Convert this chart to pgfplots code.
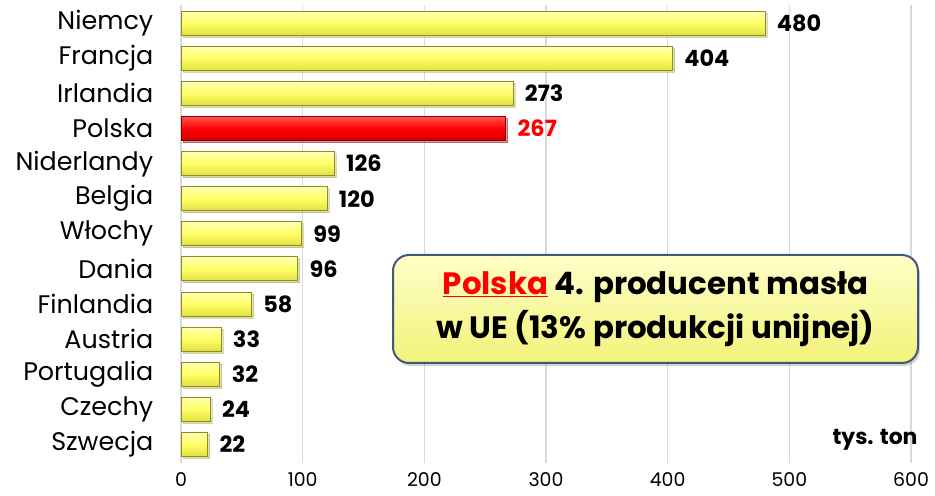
\documentclass[border=0pt]{standalone}
\usepackage{pgfplots}
\pgfplotsset{compat=1.18}
\usepackage{pgfplotstable}
\usepackage{fontspec}
\setmainfont{Poppins}
\usetikzlibrary{shadows}
\definecolor{baryel}{HTML}{FFFF66}
\definecolor{baryellight}{HTML}{FFFFB0}
\definecolor{baryeldark}{HTML}{E0E040}
\definecolor{barborder}{HTML}{8C8C2E}
\definecolor{redlight}{HTML}{FF5050}
\definecolor{reddark}{HTML}{D00000}
\definecolor{redborder}{HTML}{800000}
\definecolor{gridgray}{HTML}{D9D9D9}
\definecolor{boxborder}{HTML}{3E5A78}
\definecolor{boxtop}{HTML}{FFFFC8}
\definecolor{boxbottom}{HTML}{F2F27A}
\pgfplotstableread{
y val
0 480
1 404
2 273
3 267
4 126
5 120
6 99
7 96
8 58
9 33
10 32
11 24
12 22
}\data
\begin{document}
\begin{tikzpicture}
\useasboundingbox (0,0) rectangle (935bp,496bp);
\begin{axis}[
  at={(181bp,33bp)}, anchor=south west,
  scale only axis, width=730bp, height=458bp,
  xbar, bar width=24bp, bar shift=0pt,
  xmin=0, xmax=600, ymin=-0.52, ymax=12.53, y dir=reverse,
  xtick={0,100,...,600},
  ytick={0,...,12},
  yticklabels={Niemcy,Francja,Irlandia,Polska,Niderlandy,Belgia,Włochy,Dania,Finlandia,Austria,Portugalia,Czechy,Szwecja},
  xmajorgrids, major grid style={gridgray, line width=1.5bp},
  axis line style={draw=none}, tick style={draw=none},
  /pgf/number format/assume math mode=true,
  xticklabel style={font=\fontsize{19}{22}\selectfont, yshift=-6bp},
  yticklabel style={font=\fontsize{25.5}{28}\selectfont, xshift=-20bp},
  nodes near coords,
  nodes near coords align={horizontal},
  every node near coord/.append style={font=\bfseries\fontsize{22.5}{24}\selectfont, xshift=8bp},
  yellowbar/.style={draw=barborder, line width=1bp, top color=baryellight, bottom color=baryeldark, middle color=baryel,
    drop shadow={shadow xshift=2bp, shadow yshift=-2bp, opacity=0.3}},
  redbar/.style={draw=redborder, line width=1bp, top color=redlight, bottom color=reddark, middle color=red,
    drop shadow={shadow xshift=2bp, shadow yshift=-2bp, opacity=0.3},
    every node near coord/.append style={text=red}},
]
\pgfplotsinvokeforeach{0,1,2}{
  \addplot[yellowbar] table[x=val, y=y, restrict y to domain=#1:#1] {\data};
}
\addplot[redbar] table[x=val, y=y, restrict y to domain=3:3] {\data};
\pgfplotsinvokeforeach{4,5,6,7,8,9,10,11,12}{
  \addplot[yellowbar] table[x=val, y=y, restrict y to domain=#1:#1] {\data};
}
\end{axis}
\node[draw=boxborder, line width=2bp, rounded corners=16bp, top color=boxtop, bottom color=boxbottom,
  minimum width=525bp, minimum height=108bp, align=center,
  font=\bfseries\fontsize{31}{44}\selectfont,
  drop shadow={shadow xshift=2bp, shadow yshift=-3bp, opacity=0.35}]
  at (655.5bp,187bp) {\textcolor{red}{\underline{Polska}} 4. producent masła\\ w UE (13\% produkcji unijnej)};
\node[font=\bfseries\fontsize{22}{24}\selectfont] at (875bp,56bp) {tys. ton};
\end{tikzpicture}
\end{document}
